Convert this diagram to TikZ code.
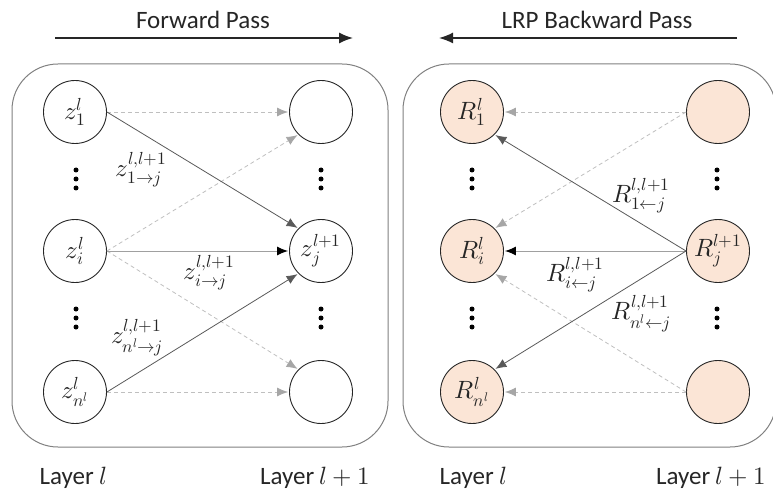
\documentclass[tikz,border=0pt]{standalone}
\usepackage{fontspec}
\usepackage{unicode-math}
\setmainfont{Carlito}
\setmathfont{Latin Modern Math}
\usetikzlibrary{arrows.meta}
\definecolor{peach}{HTML}{FBE5D6}
\definecolor{boxgray}{HTML}{808080}
\definecolor{dashgray}{HTML}{BFBFBF}
\definecolor{headgray}{HTML}{A6A6A6}
\definecolor{solidgray}{HTML}{595959}
\definecolor{midgray}{HTML}{A0A0A0}
\definecolor{textcol}{HTML}{262626}
\tikzset{
  neuron/.style={circle, draw=textcol, line width=0.9pt, minimum size=63pt, inner sep=0pt, font=\fontsize{25}{25}\selectfont, text=textcol},
  rneuron/.style={neuron, fill=peach},
  panel/.style={draw=boxgray, line width=1pt, rounded corners=46pt},
  solidedge/.style={draw=solidgray, line width=0.8pt, -{Latex[length=11pt,width=9pt]}, shorten >=1pt},
  midedge/.style={draw=midgray, line width=1pt, -{Latex[length=11pt,width=9pt,color=black]}, shorten >=1pt},
  dashedge/.style={draw=dashgray, line width=0.8pt, dash pattern=on 4pt off 3pt, -{Latex[length=11pt,width=9pt,color=headgray]}, shorten >=1pt},
  elabel/.style={font=\fontsize{25}{25}\selectfont, text=textcol, inner sep=0pt},
  dotn/.style={circle, fill=black, minimum size=5pt, inner sep=0pt},
  title/.style={font=\fontsize{25}{25}\selectfont, text=textcol},
  passarrow/.style={draw=textcol, line width=1.5pt, -{Latex[length=14pt,width=11pt]}},
}
\begin{document}
\begin{tikzpicture}[x=1pt,y=-1pt]
\useasboundingbox (0,0) rectangle (773,497);
\begin{scope}
\clip (0,0) rectangle (773,497);
% panels
\draw[panel] (12,64) rectangle (388,447);
\draw[panel] (403,64) rectangle (776,447);
\end{scope}
% titles
\node[title] (ftitle) at (203,20) {Forward Pass};
\node[title] (btitle) at (597,20) {LRP Backward Pass};
\coordinate (fa1) at (55,38);
\coordinate (fa2) at (353,38);
\coordinate (ba1) at (737,38);
\coordinate (ba2) at (439,38);
\draw[passarrow] (fa1) -- (fa2);
\draw[passarrow] (ba1) -- (ba2);
% left panel nodes
\node[neuron] (z1) at (75,112) {$z_1^l$};
\node[neuron] (zi) at (75,251) {$z_i^l$};
\node[neuron] (zn) at (75,392) {$z_{n^l}^l$};
\node[neuron] (y1) at (321,112) {};
\node[neuron] (zj) at (321,251) {$z_j^{l+1}$};
\node[neuron] (yn) at (321,392) {};
% right panel nodes
\node[rneuron] (r1) at (472,112) {$R_1^l$};
\node[rneuron] (ri) at (472,251) {$R_i^l$};
\node[rneuron] (rn) at (472,392) {$R_{n^l}^l$};
\node[rneuron] (s1) at (718,112) {};
\node[rneuron] (rj) at (718,251) {$R_j^{l+1}$};
\node[rneuron] (sn) at (718,392) {};
% dots
\foreach \nm/\x/\y in {a/76/179,b/321/179,c/76/318,d/321/318,e/472/179,f/717/179,g/472/318,h/717/318}{
  \node[dotn] (\nm1) at (\x,\y-9) {};
  \node[dotn] (\nm2) at (\x,\y) {};
  \node[dotn] (\nm3) at (\x,\y+9) {};
}
% left edges
\draw[dashedge] (z1.east) -- (y1.west);
\draw[dashedge] (zi.east) -- (y1.south west);
\draw[dashedge] (zi.east) -- (yn.north west);
\draw[dashedge] (zn.east) -- (yn.west);
\draw[solidedge] (z1.east) -- (zj.north west);
\draw[midedge] (zi.east) -- (zj.west);
\draw[solidedge] (zn.east) -- (zj.south west);
% right edges
\draw[dashedge] (s1.west) -- (r1.east);
\draw[dashedge] (s1.west) -- (ri.north east);
\draw[dashedge] (sn.west) -- (ri.south east);
\draw[dashedge] (sn.west) -- (rn.east);
\draw[solidedge] (rj.west) -- (r1.south east);
\draw[midedge] (rj.west) -- (ri.east);
\draw[solidedge] (rj.west) -- (rn.north east);
% edge labels
\node[elabel] (l1) at (141,170) {$z_{1\rightarrow j}^{l,l+1}$};
\node[elabel] (li) at (209,273) {$z_{i\rightarrow j}^{l,l+1}$};
\node[elabel] (ln) at (137,338) {$z_{n^l\rightarrow j}^{l,l+1}$};
\node[elabel] (m1) at (641,196) {$R_{1\leftarrow j}^{l,l+1}$};
\node[elabel] (mi) at (575,275) {$R_{i\leftarrow j}^{l,l+1}$};
\node[elabel] (mn) at (641,314) {$R_{n^l\leftarrow j}^{l,l+1}$};
% layer labels
\node[title, anchor=west] (L1) at (36,478) {Layer $l$};
\node[title, anchor=east] (L2) at (374,478) {Layer $l+1$};
\node[title, anchor=west] (L3) at (436,478) {Layer $l$};
\node[title, anchor=east] (L4) at (770,478) {Layer $l+1$};
\end{tikzpicture}
\end{document}
